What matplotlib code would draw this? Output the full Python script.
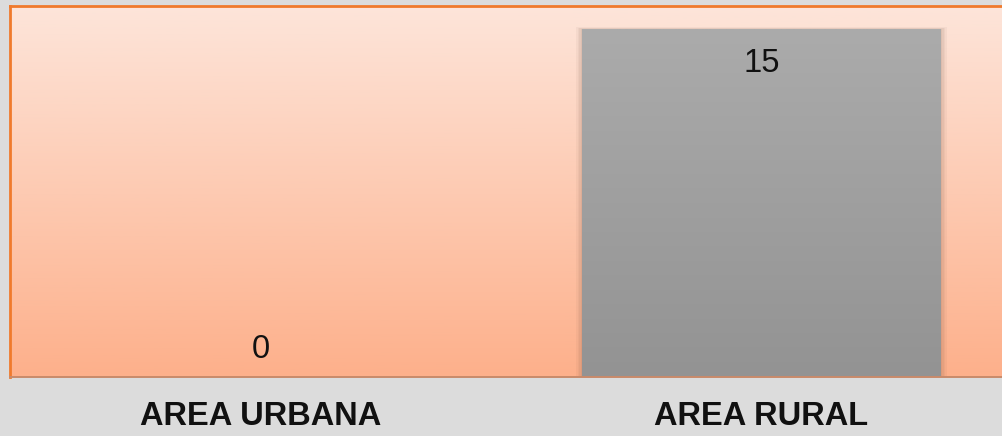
import numpy as np
import matplotlib.pyplot as plt
from matplotlib.colors import LinearSegmentedColormap
from matplotlib.patches import Rectangle

categories = ["AREA URBANA", "AREA RURAL"]
values = [0, 15]

fig = plt.figure(figsize=(10.03, 4.36), dpi=100)
fig.patch.set_facecolor("#dcdcdc")

# plot area (runs a little past the right edge like the original)
ax = fig.add_axes([10 / 1003, 59 / 436, 1002 / 1003, 371 / 436])
ax.set_xlim(-0.5, 1.5)
ax.set_ylim(0, 16)

# orange background gradient
bg = LinearSegmentedColormap.from_list("bg", ["#fdb08b", "#fde5da"])
grad = np.linspace(0, 1, 256).reshape(-1, 1)
ax.imshow(grad, cmap=bg, origin="lower", aspect="auto",
          extent=[-0.5, 1.5, 0, 16], zorder=0)

bar_cmap = LinearSegmentedColormap.from_list("bar", ["#939393", "#ababab"])
width = 0.715
x = np.arange(len(categories))
bars = ax.bar(x, values, width=width, color="none", zorder=2)

for rect, v in zip(bars, values):
  if v <= 0:
    continue
  x0, w = rect.get_x(), rect.get_width()
  # soft shadow
  for i, a in enumerate([0.05, 0.05, 0.06, 0.07]):
    d = 0.012 - i * 0.003
    ax.add_patch(Rectangle((x0 - d, 0), w + 2 * d, v + d * 8, color="#6b4a3a",
                           alpha=a, lw=0, zorder=1.5))
  im = ax.imshow(grad, cmap=bar_cmap, origin="lower", aspect="auto",
                 extent=[x0, x0 + w, 0, v], zorder=2.5)
  im.set_clip_path(rect)

# value labels: inside the top for a real bar, just above the base for zero
for xi, v in zip(x, values):
  off = -30.5 if v > 0 else 13.5
  ax.annotate(str(v), (xi, v), xytext=(0, off), textcoords="offset points",
              ha="center", va="baseline", fontsize=23.5, color="#111111",
              family="Liberation Sans", zorder=4)

# category labels
for xi, c in zip(x, categories):
  ax.annotate(c, (xi, 0), xycoords=("data", "axes fraction"),
              xytext=(0, -34.5), textcoords="offset points",
              ha="center", va="baseline", fontsize=23.5, fontweight="bold",
              family="Liberation Sans", color="#111111", annotation_clip=False)

ax.set_xticks([])
ax.set_yticks([])

for s in ax.spines.values():
  s.set_color("#f07a2c")
  s.set_linewidth(2)
ax.spines["bottom"].set_color("#c98a6a")
ax.spines["bottom"].set_linewidth(1.4)

fig.savefig("out.png", dpi=100, facecolor=fig.get_facecolor())
